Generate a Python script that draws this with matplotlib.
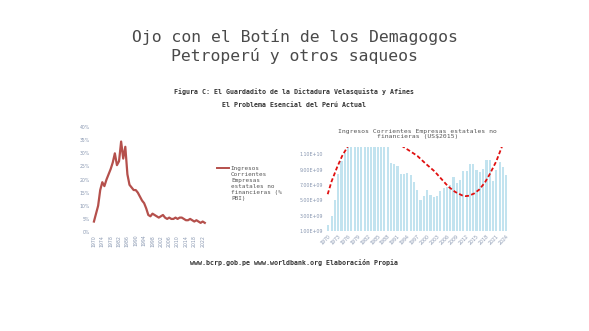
import matplotlib
matplotlib.use("Agg")
import matplotlib.pyplot as plt
from matplotlib.ticker import FuncFormatter

# left panel: % of GDP
years_pct = list(range(1970, 2024))
pct = [4, 7, 10, 16, 19, 17.5, 20, 22, 24, 26.5, 30, 25.5, 27, 34.5, 28, 32.5,
       22, 18, 17, 16, 16, 15, 13.5, 12, 11, 9, 6.5, 6, 7, 6.5, 6, 5.5, 6, 6.5,
       5.5, 5, 5.5, 5, 5, 5.5, 5, 5.5, 5.5, 5, 4.5, 4.5, 5, 4.5, 4, 4.5, 4, 3.5,
       4, 3.5]
pct_ticks = list(range(1970, 2024, 4))

# right panel: US$2015
years_usd = list(range(1970, 2025))
usd = [1.8, 3.0, 5.1, 8.4, 10.1, 11.2, 13, 13, 13, 13, 13, 13, 13, 13, 13, 13,
       13, 13, 13, 9.9, 9.7, 9.5, 8.4, 8.4, 8.5, 8.3, 7.4, 6.3, 5.0, 5.6, 6.3,
       5.7, 5.4, 5.6, 6.2, 6.6, 6.7, 7.0, 8.1, 7.2, 7.7, 8.8, 8.8, 9.8, 9.8,
       9.0, 8.7, 9.1, 10.3, 10.2, 7.5, 9.0, 10.0, 9.3, 8.3]
usd = [v * 1e9 for v in usd]
usd_ticks = list(range(1970, 2025, 3))

# hand drawn trend (red dashed)
curve_a_x = [1969.8, 1971.0, 1972.6, 1974.2, 1976.0, 1977.0]
curve_a_y = [5.8e9, 7.5e9, 9.25e9, 10.8e9, 12.1e9, 12.8e9]
curve_b_x = [1991.0, 1992.3, 1994.5, 1997.0, 1999.5, 2002.2, 2004.3, 2006.4,
             2008.5, 2010.6, 2011.7, 2012.7, 2014.3, 2015.8, 2017.5, 2019.0,
             2021.0, 2022.8, 2023.3]
curve_b_y = [12.8e9, 12.1e9, 11.5e9, 10.8e9, 9.8e9, 8.8e9, 7.8e9, 6.8e9,
             6.1e9, 5.65e9, 5.55e9, 5.6e9, 5.9e9, 6.4e9, 7.3e9, 8.4e9,
             10.1e9, 12.1e9, 12.8e9]

mono = "DejaVu Sans Mono"
tick_col = "#8796b0"

fig = plt.figure(figsize=(5.89, 3.31), dpi=100)

fig.text(0.5, 0.888, "Ojo con el Botín de los Demagogos", ha="center", va="center",
         family=mono, fontsize=11.8, color="#4a4a4a", weight="light")
fig.text(0.5, 0.83, "Petroperú y otros saqueos", ha="center", va="center",
         family=mono, fontsize=11.8, color="#4a4a4a", weight="light")
fig.text(0.5, 0.722, "Figura C: El Guardadito de la Dictadura Velasquista y Afines",
         ha="center", va="center", family=mono, fontsize=4.8, weight="bold", color="#333")
fig.text(0.5, 0.683, "El Problema Esencial del Perú Actual",
         ha="center", va="center", family=mono, fontsize=4.8, weight="bold", color="#333")
fig.text(0.5, 0.208, "www.bcrp.gob.pe www.worldbank.org Elaboración Propia",
         ha="center", va="center", family=mono, fontsize=4.8, weight="bold", color="#333")

# left chart
ax1 = fig.add_axes([0.157, 0.299, 0.196, 0.317])
ax1.plot(years_pct, pct, color="#b5504c", lw=1.6)
ax1.set_ylim(0, 40)
ax1.set_xlim(1969.3, 2024.5)
ax1.set_yticks(range(0, 41, 5))
ax1.yaxis.set_major_formatter(FuncFormatter(lambda v, p: f"{v:.0f}%"))
ax1.set_xticks(pct_ticks)
ax1.set_xticklabels([str(y) for y in pct_ticks], rotation=90)
ax1.tick_params(labelsize=3.3, colors=tick_col, length=0, pad=2)
for s in ax1.spines.values():
    s.set_visible(False)
ax1.axhline(0, color="#c8d0e0", lw=0.6, ls=":")

fig.lines.append(plt.Line2D([0.368, 0.388], [0.492, 0.492], color="#b5504c", lw=1.4,
                            transform=fig.transFigure))
fig.text(0.392, 0.497, "Ingresos\nCorrientes\nEmpresas\nestatales no\nfinancieras (%\nPBI)",
         ha="left", va="top", family=mono, fontsize=4.3, color="#555", linespacing=1.25)

# right chart
ax2 = fig.add_axes([0.553, 0.302, 0.312, 0.255])
ax2.bar(years_usd, usd, width=0.65, color="#c2e3ef", bottom=0)
ax2.plot(curve_a_x, curve_a_y, color="#e01010", lw=1.3, ls=(0, (2.2, 1.3)))
ax2.plot(curve_b_x, curve_b_y, color="#e01010", lw=1.3, ls=(0, (2.2, 1.3)))
ax2.set_ylim(1e9, 1.2e10)
ax2.set_xlim(1969.2, 2025)
ax2.set_yticks([1e9, 3e9, 5e9, 7e9, 9e9, 1.1e10])
ax2.yaxis.set_major_formatter(FuncFormatter(lambda v, p: f"{v:.2E}"))
ax2.set_xticks(usd_ticks)
ax2.set_xticklabels([str(y) for y in usd_ticks], rotation=45, ha="right", rotation_mode="anchor")
ax2.tick_params(labelsize=3.4, colors=tick_col, length=0, pad=2)
for s in ax2.spines.values():
    s.set_visible(False)
ax2.set_title("Ingresos Corrientes Empresas estatales no\nfinancieras (US\\$2015)",
              family=mono, fontsize=4.6, color="#555", pad=6, linespacing=1.0)

fig.savefig("out.png", dpi=100, facecolor="white")
